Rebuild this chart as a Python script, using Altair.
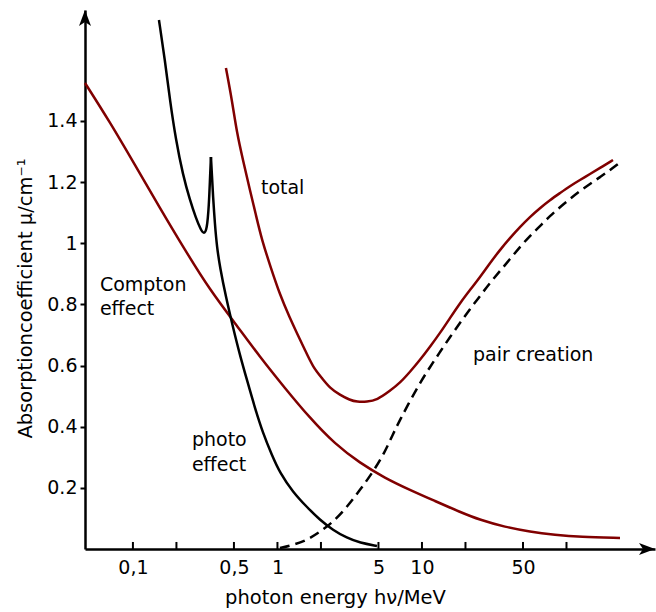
import altair as alt
import pandas as pd

# ---- data (photon energy in MeV, absorption coefficient in 1/cm) ----
compton_e = [0.0466, 0.0693, 0.1032, 0.1538, 0.229, 0.3411, 0.508, 0.7566, 1.127, 1.679, 2.5,
             3.724, 5.545, 8.26, 12.30, 18.32, 25.2, 37.54, 55.9, 83.25, 124.0, 234.6]
compton_mu = [1.524, 1.396, 1.256, 1.115, 0.978, 0.847, 0.739, 0.628, 0.526, 0.428, 0.343,
              0.281, 0.232, 0.193, 0.157, 0.121, 0.095, 0.072, 0.056, 0.046, 0.039, 0.036]

photo_e = [0.1514, 0.1665, 0.1803, 0.1984, 0.2218, 0.248, 0.2729, 0.2955, 0.3099, 0.3251,
           0.3357, 0.3411, 0.3466, 0.3522, 0.3578, 0.3694, 0.3814, 0.4, 0.4401, 0.492,
           0.55, 0.6151, 0.6988, 0.7937, 0.9161, 1.0406, 1.2803, 1.6003, 1.9682, 2.4215,
           3.0269, 3.724, 4.8832]
photo_mu = [1.730, 1.599, 1.468, 1.337, 1.223, 1.141, 1.082, 1.043, 1.030, 1.043,
            1.125, 1.207, 1.282, 1.223, 1.158, 1.060, 0.988, 0.922, 0.824, 0.726,
            0.634, 0.553, 0.461, 0.379, 0.307, 0.249, 0.186, 0.137, 0.095, 0.062,
            0.036, 0.020, 0.010]
photo_peak_e = 0.3466

total_e = [0.4401, 0.4844, 0.5244, 0.5771, 0.645, 0.7099, 0.781, 0.8872, 1.0406, 1.2203,
           1.3643, 1.55, 1.7612, 2.0324, 2.3084, 2.7073, 3.175, 3.5497, 4.164, 4.8832,
           6.0046, 7.0437, 8.2604, 9.6873, 11.36, 13.32, 15.62, 18.32, 21.49, 25.2,
           29.55, 34.66, 40.64, 47.67, 55.9, 65.55, 76.88, 90.16, 105.7, 124.0,
           145.4, 170.5, 209.8]
total_mu = [1.573, 1.468, 1.360, 1.272, 1.174, 1.092, 1.010, 0.929, 0.831, 0.755,
            0.706, 0.651, 0.595, 0.559, 0.526, 0.504, 0.487, 0.481, 0.481, 0.487,
            0.517, 0.543, 0.579, 0.618, 0.661, 0.706, 0.755, 0.804, 0.847, 0.889,
            0.935, 0.978, 1.017, 1.053, 1.086, 1.115, 1.141, 1.164, 1.187, 1.207,
            1.226, 1.246, 1.272]

pair_e = [1.0406, 1.2803, 1.6003, 1.9682, 2.4215, 3.0269, 3.724, 4.5804, 5.5448, 6.299,
          7.044, 8.26, 9.687, 11.36, 13.32, 15.62, 18.32, 21.49, 25.2, 29.55,
          34.66, 40.64, 47.67, 55.9, 65.55, 76.88, 90.16, 105.7, 124.0, 145.4,
          170.5, 200.0, 227.2]
pair_mu = [0.003, 0.013, 0.029, 0.056, 0.088, 0.137, 0.193, 0.252, 0.317, 0.376,
           0.422, 0.484, 0.543, 0.595, 0.644, 0.693, 0.739, 0.785, 0.827, 0.870,
           0.909, 0.948, 0.988, 1.024, 1.056, 1.089, 1.118, 1.145, 1.171, 1.194,
           1.216, 1.239, 1.259]

x_tick_values = [0.1, 0.2, 0.5, 1, 2, 5, 10, 20, 50, 100]
x_label_values = [0.1, 0.5, 1, 5, 10, 50]
y_tick_values = [0.2, 0.4, 0.6, 0.8, 1.0, 1.2, 1.4]

label_text = ["total", "Compton", "effect", "photo", "effect", "pair creation"]
label_e = [0.7688, 0.0591, 0.0591, 0.256, 0.256, 22.54]
label_mu = [1.180, 0.863, 0.786, 0.356, 0.275, 0.634]

X_DOMAIN = [0.0466, 409.7]
Y_DOMAIN = [0, 1.7626]

FONT = "DejaVu Sans"
RED = "#800000"
FS = 19

xscale = alt.Scale(type="log", domain=X_DOMAIN, nice=False)
yscale = alt.Scale(domain=Y_DOMAIN, nice=False, zero=False)

x_axis = alt.Axis(
    values=x_label_values,
    labelExpr="replace(format(datum.value, '~g'), '.', ',')",
    ticks=False, grid=False,
    domainColor="black", domainWidth=2.5,
    labelFont=FONT, labelFontSize=FS, labelColor="black", labelPadding=9,
    labelFlush=False, labelOverlap=False,
    title="photon energy hν/MeV", titleFont=FONT, titleFontSize=19.5,
    titleFontWeight="normal", titleColor="black",
    titleX=250, titleY=54, titleAlign="center", titleBaseline="alphabetic",
)
y_axis = alt.Axis(
    values=y_tick_values, format="~g",
    tickSize=5, tickWidth=2, tickColor="black", grid=False,
    domainColor="black", domainWidth=2.5,
    labelFont=FONT, labelFontSize=FS, labelColor="black", labelPadding=3,
    title="Absorptioncoefficient µ/cm⁻¹", titleFont=FONT, titleFontSize=19.5,
    titleFontWeight="normal", titleColor="black",
    titleAngle=270, titleX=-54, titleY=288, titleAlign="center",
    titleBaseline="alphabetic",
)


def curve(df, color, interp, dash=None):
    kw = dict(color=color, strokeWidth=2.5, interpolate=interp)
    if dash:
        kw["strokeDash"] = dash
    return alt.Chart(df).mark_line(**kw).encode(
        x=alt.X("e:Q", scale=xscale, axis=x_axis),
        y=alt.Y("mu:Q", scale=yscale, axis=y_axis),
    )


compton = curve(pd.DataFrame({"e": compton_e, "mu": compton_mu}), RED, "basis")
total = curve(pd.DataFrame({"e": total_e, "mu": total_mu}), RED, "basis")
photo_df = pd.DataFrame({"e": photo_e, "mu": photo_mu})
photo_left = curve(photo_df[photo_df.e <= photo_peak_e], "black", "basis")
photo_right = curve(photo_df[photo_df.e >= photo_peak_e], "black", "basis")
pair = curve(pd.DataFrame({"e": pair_e, "mu": pair_mu}), "black", "basis", [10, 6])

ticks_df = pd.DataFrame({"e": x_tick_values, "y0": [0.0] * len(x_tick_values),
                         "y1": [0.023] * len(x_tick_values)})
xticks = alt.Chart(ticks_df).mark_rule(color="black", strokeWidth=2).encode(
    x="e:Q", y="y0:Q", y2="y1:Q"
)

arrow_df = pd.DataFrame({
    "e": [X_DOMAIN[1], X_DOMAIN[0]],
    "mu": [Y_DOMAIN[0], Y_DOMAIN[1]],
    "shape": ["M-2,-0.75 L0,0 L-2,0.75 L-1.5,0 Z", "M-0.75,2 L0,0 L0.75,2 L0,1.5 Z"],
})
arrows = alt.Chart(arrow_df).mark_point(filled=True, color="black", size=256, opacity=1,
                                        strokeWidth=0).encode(
    x="e:Q", y="mu:Q", shape=alt.Shape("shape:N", scale=None)
)

labels_df = pd.DataFrame({"e": label_e, "mu": label_mu, "t": label_text})
labels = alt.Chart(labels_df).mark_text(
    align="left", baseline="middle", font=FONT, fontSize=FS, color="black"
).encode(x="e:Q", y="mu:Q", text="t:N")

chart = alt.layer(compton, total, photo_left, photo_right, pair, xticks, arrows,
                  labels).properties(
    width=570, height=539,
    autosize=alt.AutoSizeParams(type="none"),
    padding={"left": 85, "top": 10, "right": 1, "bottom": 63},
    background="white",
).configure_view(stroke=None)

chart.save("out.html", embed_options={"renderer": "svg", "actions": False})
